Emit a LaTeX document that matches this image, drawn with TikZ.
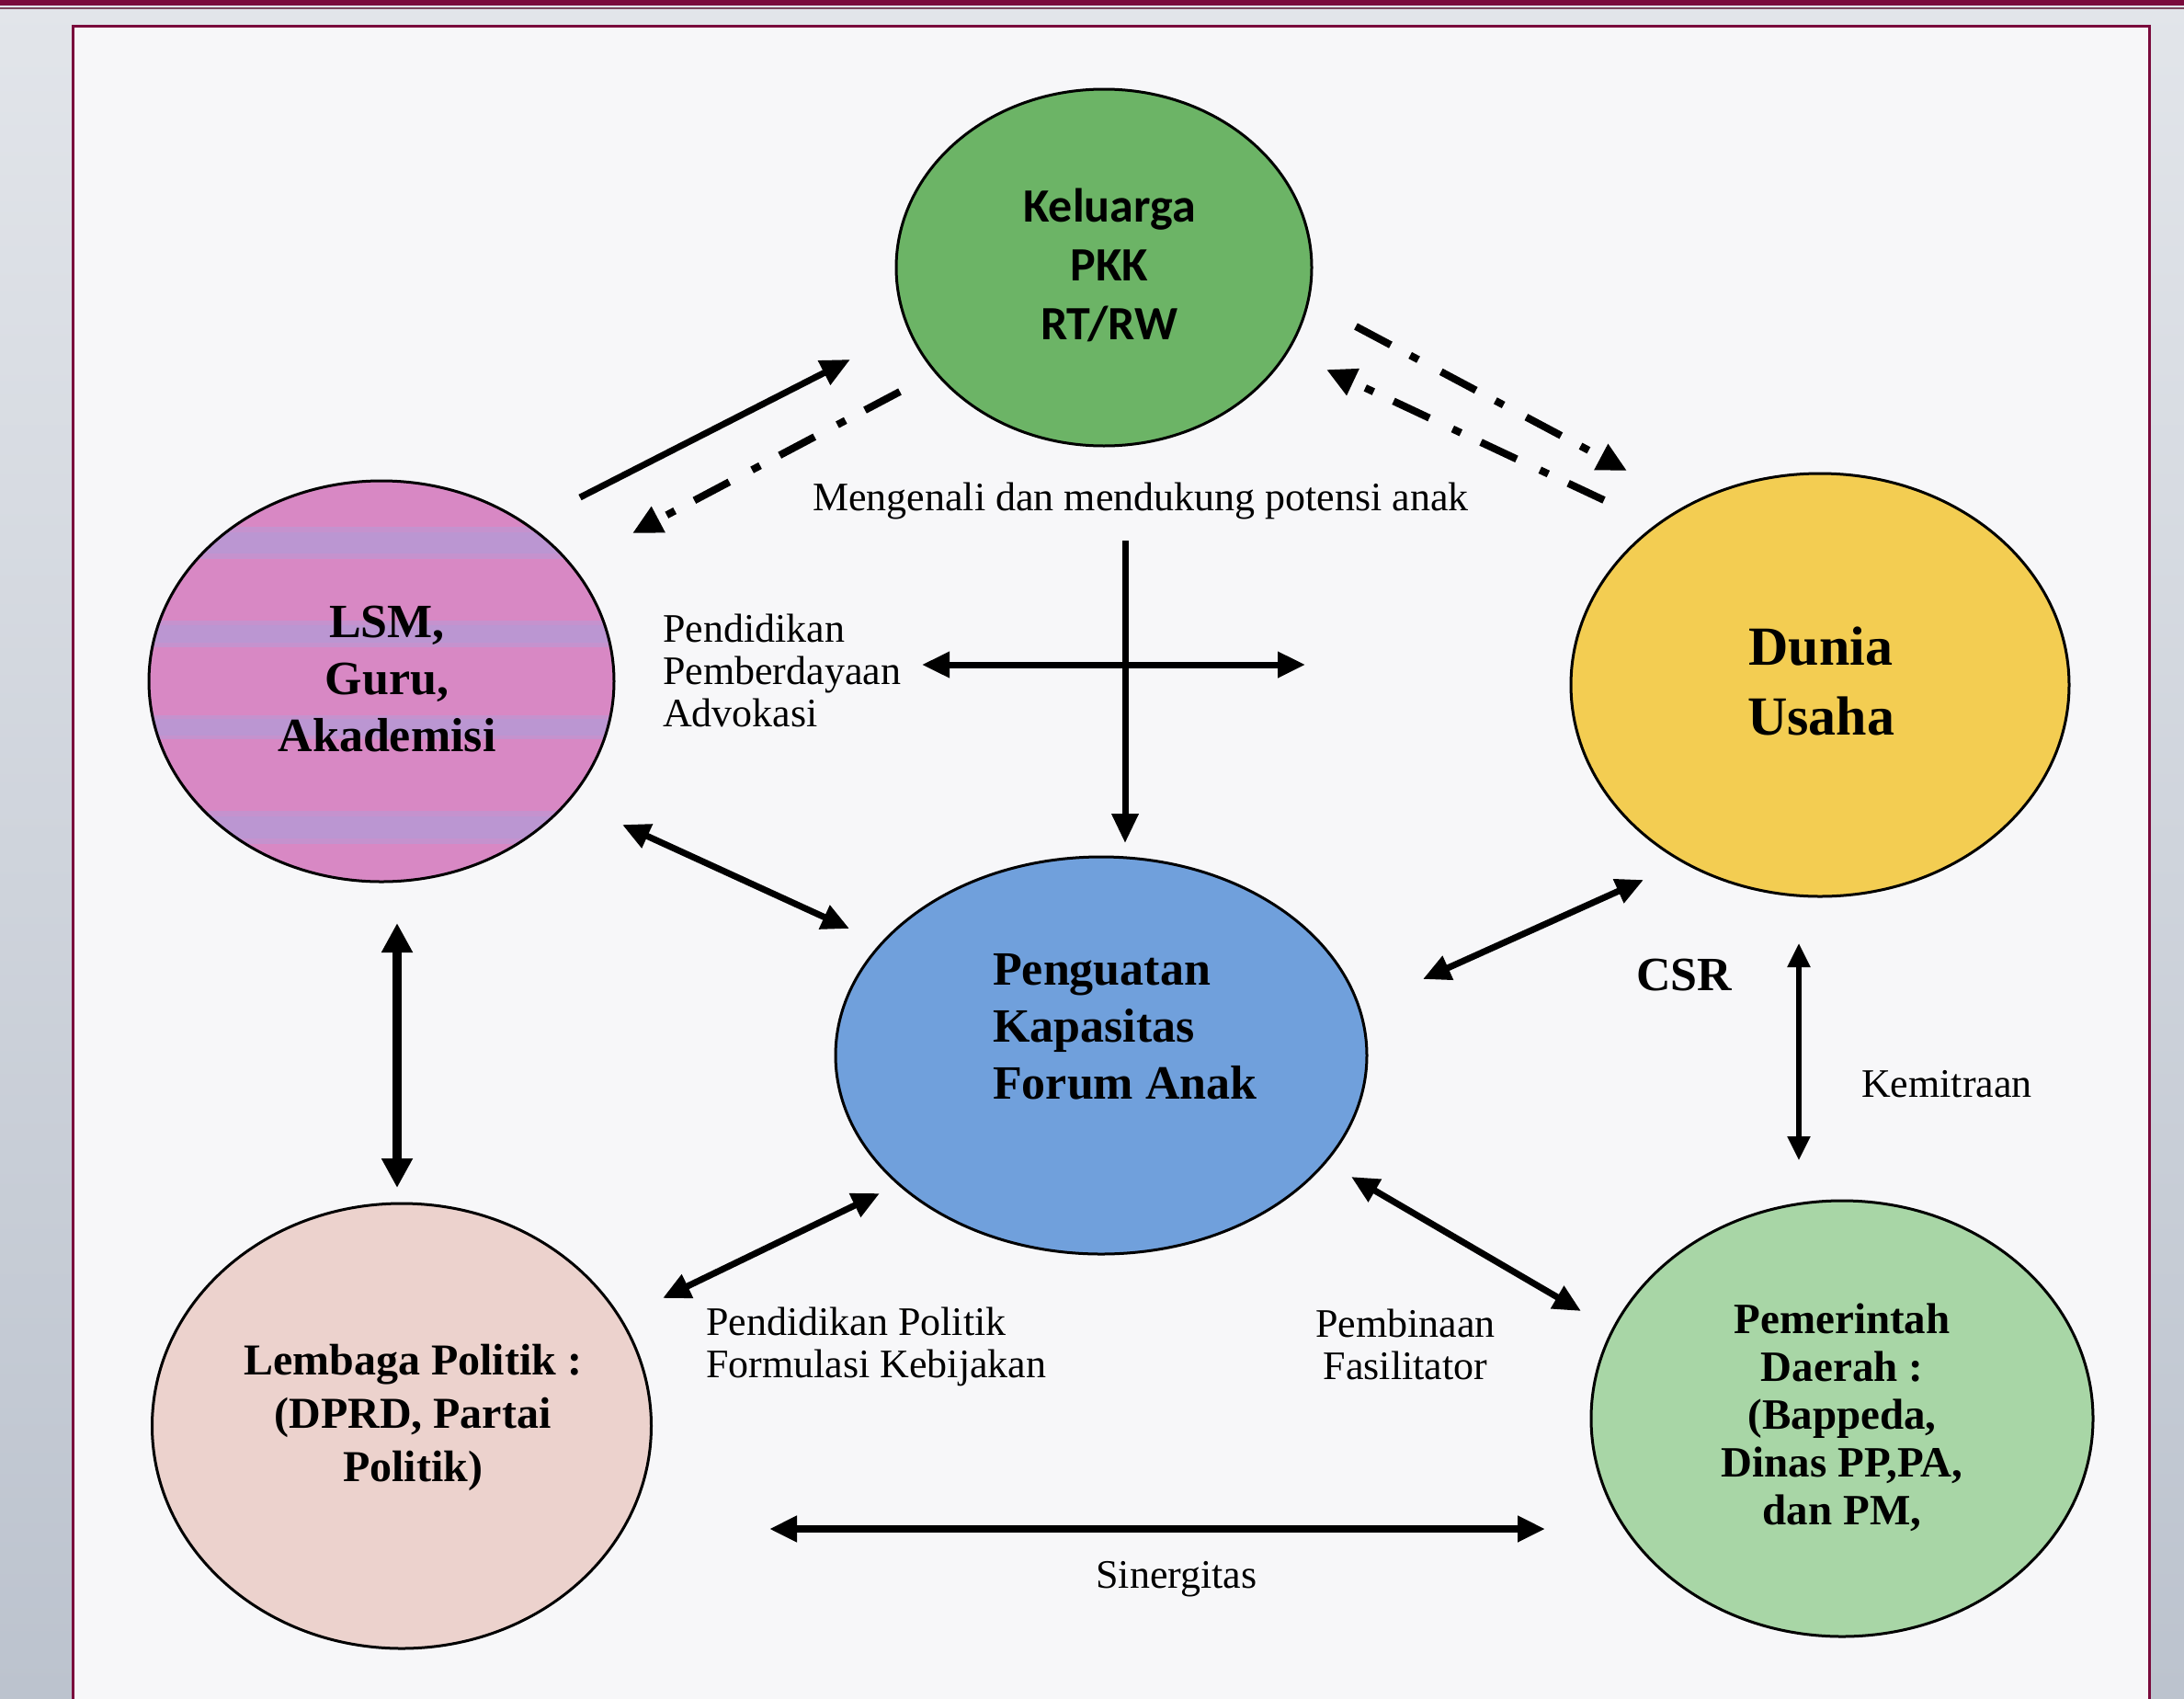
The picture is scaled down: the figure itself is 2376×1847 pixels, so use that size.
\documentclass[tikz,border=0pt]{standalone}
\usepackage{fontspec}
\setmainfont{Liberation Serif}
\newfontfamily\calib{Carlito}
\usetikzlibrary{arrows.meta,shapes.geometric}
\definecolor{maroon}{RGB}{122,10,60}
\definecolor{outertop}{RGB}{226,229,234}
\definecolor{outerbot}{RGB}{188,195,206}
\definecolor{paper}{RGB}{247,247,249}
\definecolor{kgreen}{RGB}{108,180,102}
\definecolor{lsmpink}{RGB}{216,136,196}
\definecolor{lav}{RGB}{184,152,212}
\definecolor{dyellow}{RGB}{243,205,82}
\definecolor{fblue}{RGB}{112,160,220}
\definecolor{lpeach}{RGB}{236,210,205}
\definecolor{pgreen}{RGB}{168,214,166}
\tikzset{
  ell/.style={ellipse, draw=black, line width=3pt, inner sep=0pt},
  lbl/.style={font=\fontsize{44}{46}\selectfont, inner sep=0pt},
  boldtxt/.style={font=\bfseries\fontsize{52}{62}\selectfont, align=center, inner sep=0pt},
  onearrow/.style={line width=7pt, -{Triangle[length=32pt,width=28pt]}},
  twoarrow/.style={line width=7pt, {Triangle[length=30pt,width=27pt]}-{Triangle[length=30pt,width=27pt]}},
  dashdot/.style={line width=8pt, dash pattern=on 43pt off 24pt on 10pt off 28pt, -{Triangle[length=32pt,width=30pt]}}
}
\begin{document}
\begin{tikzpicture}[x=1pt,y=-1pt]
\useasboundingbox (0,0) rectangle (2376,1847);
\clip (0,0) rectangle (2376,1847);
% outer background
\shade[top color=outertop, bottom color=outerbot] (0,0) rectangle (2376,1847);
\fill[maroon] (0,0) rectangle (2376,6);
\draw[maroon!45!gray, line width=2pt] (0,9) -- (2376,9);
% panel
\draw[maroon, line width=3pt, fill=paper] (79,28) rectangle (2338,1900);

% ellipses
\node[ell, fill=kgreen, minimum width=452pt, minimum height=388pt] (kel) at (1201,291) {};
\node[font=\calib\bfseries\fontsize{52}{64}\selectfont, align=center, inner sep=0pt] (keltxt) at (1207,288) {Keluarga\\PKK\\RT/RW};

\node[ell, fill=lsmpink, minimum width=506pt, minimum height=436pt,
  path picture={
    \foreach \a/\b in {50/85,152/181,255/281,359/395}
      \fill[lav!60!lsmpink] ([yshift=-\a pt]path picture bounding box.north west) rectangle ([yshift=-\b pt]path picture bounding box.north east);
    \foreach \a/\b in {56/79,157/176,259/277,365/389}
      \fill[lav!90!lsmpink] ([yshift=-\a pt]path picture bounding box.north west) rectangle ([yshift=-\b pt]path picture bounding box.north east);
  }] (lsm) at (415,741) {};
\node[boldtxt] (lsmtxt) at (421,739) {LSM,\\Guru,\\Akademisi};

\node[ell, fill=dyellow, minimum width=542pt, minimum height=460pt] (du) at (1980,745) {};
\node[boldtxt, font=\bfseries\fontsize{60}{76}\selectfont] (dutxt) at (1981,741) {Dunia\\Usaha};

\node[ell, fill=fblue, minimum width=578pt, minimum height=432pt] (fa) at (1198,1148) {};
\node[boldtxt, align=left, anchor=west] (fatxt) at (1080,1117) {Penguatan\\Kapasitas\\Forum Anak};

\node[ell, fill=lpeach, minimum width=543pt, minimum height=484pt] (lp) at (437,1551) {};
\node[boldtxt, font=\bfseries\fontsize{48}{58}\selectfont] (lptxt) at (449,1542) {Lembaga Politik :\\(DPRD, Partai\\Politik)};

\node[ell, fill=pgreen, minimum width=546pt, minimum height=474pt] (pd) at (2004,1543) {};
\node[boldtxt, font=\bfseries\fontsize{47}{52}\selectfont] (pdtxt) at (2004,1542) {Pemerintah\\Daerah :\\(Bappeda,\\Dinas PP,PA,\\dan PM,};

% labels
\node[lbl] (mengenali) at (1241,545) {Mengenali dan mendukung potensi anak};
\node[lbl, align=left, anchor=west] (pendidikan) at (721,729) {Pendidikan\\Pemberdayaan\\Advokasi};
\node[lbl, font=\bfseries\fontsize{52}{60}\selectfont] (csr) at (1832,1061) {CSR};
\node[lbl] (kemitraan) at (2118,1179) {Kemitraan};
\node[lbl, align=left, anchor=west] (politik) at (768,1465) {Pendidikan Politik\\Formulasi Kebijakan};
\node[lbl, align=center] (pembinaan) at (1529,1462) {Pembinaan\\Fasilitator};
\node[lbl] (sinergitas) at (1280,1718) {Sinergitas};

% connector end points
\coordinate (a1s) at (631,541);   \coordinate (a1e) at (925,391);
\coordinate (a2s) at (979,426);   \coordinate (a2e) at (688,580);
\coordinate (a3s) at (1475,355);  \coordinate (a3e) at (1770,512);
\coordinate (a4s) at (1745,544);  \coordinate (a4e) at (1443,402);
\coordinate (a5s) at (1224,588);  \coordinate (a5e) at (1224,917);
\coordinate (a6s) at (1003,723);  \coordinate (a6e) at (1420,723);
\coordinate (a7s) at (677,897);   \coordinate (a7e) at (924,1010);
\coordinate (a8s) at (1788,957);  \coordinate (a8e) at (1548,1065);
\coordinate (a9s) at (432,1004);  \coordinate (a9e) at (432,1292);
\coordinate (a10s) at (1957,1026); \coordinate (a10e) at (1957,1262);
\coordinate (a11s) at (721,1412); \coordinate (a11e) at (957,1298);
\coordinate (a12s) at (1470,1280); \coordinate (a12e) at (1720,1426);
\coordinate (a13s) at (837,1663); \coordinate (a13e) at (1681,1663);

% connectors
\draw[onearrow] (a1s) -- (a1e);
\draw[dashdot] (a2s) -- (a2e);
\draw[dashdot] (a3s) -- (a3e);
\draw[dashdot] (a4s) -- (a4e);
\draw[onearrow] (a5s) -- (a5e);
\draw[twoarrow] (a6s) -- (a6e);
\draw[twoarrow] (a7s) -- (a7e);
\draw[twoarrow] (a8s) -- (a8e);
\draw[line width=10pt, {Triangle[length=32pt,width=32pt]}-{Triangle[length=32pt,width=32pt]}] (a9s) -- (a9e);
\draw[line width=5.5pt, {Triangle[length=26pt,width=24pt]}-{Triangle[length=26pt,width=24pt]}] (a10s) -- (a10e);
\draw[twoarrow] (a11s) -- (a11e);
\draw[twoarrow] (a12s) -- (a12e);
\draw[twoarrow, line width=8pt] (a13s) -- (a13e);
\end{tikzpicture}
\end{document}
